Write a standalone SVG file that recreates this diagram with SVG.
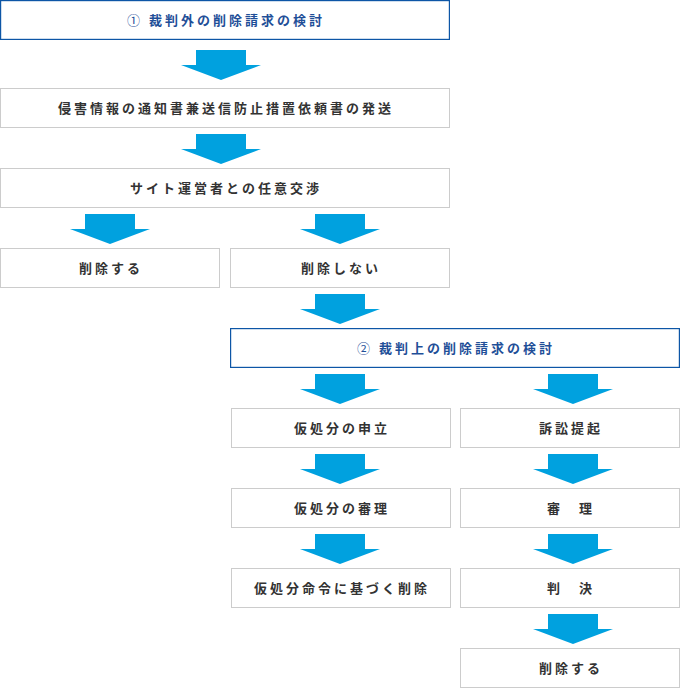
<svg xmlns="http://www.w3.org/2000/svg" xmlns:xlink="http://www.w3.org/1999/xlink" width="680" height="688" viewBox="0 0 680 688">
<style>
.box{fill:#fff;stroke:#cccccc;stroke-width:1}
.bbox{fill:#fff;stroke:#0d56a6;stroke-width:1.2}
.t{font-family:"Noto Sans CJK JP","Noto Sans",sans-serif;font-size:13px;font-weight:bold;fill:#333;text-anchor:middle;dominant-baseline:central;letter-spacing:3px}
.bt{fill:#1f4f98}
.num{font-weight:normal}
.arr{fill:#00a1df}
</style>
<defs>
<path id="arrow" class="arr" d="M-25,0 H25 V15 H40 L0,30 L-40,15 H-25 Z"/>
</defs>
<g id="connectors">
<use xlink:href="#arrow" href="#arrow" x="221" y="50"/>
<use xlink:href="#arrow" href="#arrow" x="221" y="134"/>
<use xlink:href="#arrow" href="#arrow" x="110" y="214"/>
<use xlink:href="#arrow" href="#arrow" x="340" y="214"/>
<use xlink:href="#arrow" href="#arrow" x="340" y="294"/>
<use xlink:href="#arrow" href="#arrow" x="340" y="374"/>
<use xlink:href="#arrow" href="#arrow" x="573" y="374"/>
<use xlink:href="#arrow" href="#arrow" x="340" y="454"/>
<use xlink:href="#arrow" href="#arrow" x="573" y="454"/>
<use xlink:href="#arrow" href="#arrow" x="340" y="534"/>
<use xlink:href="#arrow" href="#arrow" x="573" y="534"/>
<use xlink:href="#arrow" href="#arrow" x="573" y="614"/>
</g>
<g id="n1"><rect class="bbox" x="0.6" y="0.6" width="448.8" height="38.8"/><text class="t bt" x="226" y="19">  <tspan class="num">①</tspan> 裁判外の削除請求の検討</text></g>
<g id="n2"><rect class="box" x="0.5" y="88.5" width="449" height="39"/><text class="t" x="226" y="107">侵害情報の通知書兼送信防止措置依頼書の発送</text></g>
<g id="n3"><rect class="box" x="0.5" y="168.5" width="449" height="39"/><text class="t" x="226" y="187">サイト運営者との任意交渉</text></g>
<g id="n4"><rect class="box" x="0.5" y="248.5" width="219" height="39"/><text class="t" x="111" y="267">削除する</text></g>
<g id="n5"><rect class="box" x="230.5" y="248.5" width="219" height="39"/><text class="t" x="341" y="267">削除しない</text></g>
<g id="n6"><rect class="bbox" x="230.6" y="328.6" width="448.8" height="38.8"/><text class="t bt" x="456" y="347"><tspan class="num">②</tspan> 裁判上の削除請求の検討</text></g>
<g id="n7"><rect class="box" x="231.5" y="408.5" width="219" height="39"/><text class="t" x="342" y="427">仮処分の申立</text></g>
<g id="n8"><rect class="box" x="460.5" y="408.5" width="219" height="39"/><text class="t" x="571" y="427">訴訟提起</text></g>
<g id="n9"><rect class="box" x="231.5" y="488.5" width="219" height="39"/><text class="t" x="342" y="507">仮処分の審理</text></g>
<g id="n10"><rect class="box" x="460.5" y="488.5" width="219" height="39"/><text class="t" x="571" y="507">審　理</text></g>
<g id="n11"><rect class="box" x="231.5" y="568.5" width="219" height="39"/><text class="t" x="342" y="587">仮処分命令に基づく削除</text></g>
<g id="n12"><rect class="box" x="460.5" y="568.5" width="219" height="39"/><text class="t" x="571" y="587">判　決</text></g>
<g id="n13"><rect class="box" x="460.5" y="648.5" width="219" height="39"/><text class="t" x="571" y="667">削除する</text></g>
</svg>
